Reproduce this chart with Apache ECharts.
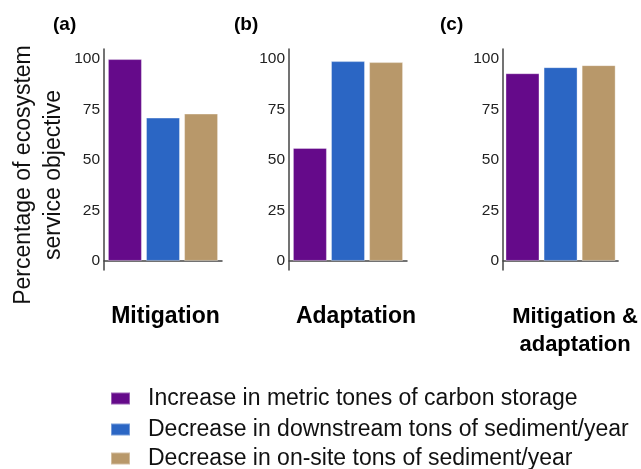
<!DOCTYPE html>
<html>
<head>
<meta charset="utf-8">
<script src="https://cdn.jsdelivr.net/npm/echarts@6/dist/echarts.min.js"></script>
<style>
html,body{margin:0;padding:0;background:#fff;}
#chart{width:641px;height:469px;}
</style>
</head>
<body>
<div id="chart"></div>
<script>
// ---- data ----
const objectives = ['Mitigation', 'Adaptation', 'Mitigation &\nadaptation'];
const panelLetters = ['(a)', '(b)', '(c)'];
const seriesNames = [
  'Increase in metric tones of carbon storage',
  'Decrease in downstream tons of sediment/year',
  'Decrease in on-site tons of sediment/year'
];
const carbonStorage = [100, 56, 93];
const downstreamSediment = [71, 99, 96];
const onsiteSediment = [73, 98.5, 97];
const yTickValues = [0, 25, 50, 75, 100];
const yTitle = 'Percentage of ecosystem\nservice objective';

// ---- layout/style ----
const FONT = "'Liberation Sans', Arial, sans-serif";
const colors = ['#650A8A', '#2B66C4', '#B8986A'];
const gridLefts = [104, 289, 503];
const gridWidths = [118, 118, 119];
const letterLefts = [53, 234, 440];
const labelShift = [5, 16, 29];
const labelSize = [23, 23, 22];
const legendTops = [387, 418, 447];
const valueSets = [carbonStorage, downstreamSediment, onsiteSediment];

const chart = echarts.init(document.getElementById('chart'), null, {renderer: 'canvas'});

const grids = [], xAxes = [], yAxes = [], series = [], titles = [], legends = [];
for (let p = 0; p < 3; p++) {
  grids.push({left: gridLefts[p], width: gridWidths[p], top: 49, height: 221, containLabel: false});
  xAxes.push({
    type: 'category', gridIndex: p, data: [objectives[p]],
    axisLine: {lineStyle: {color: '#444', width: 1.5}},
    axisTick: {show: false},
    axisLabel: {
      fontFamily: FONT, fontSize: labelSize[p], fontWeight: 'bold', color: '#000',
      margin: 33, lineHeight: 28, padding: [0, 0, 0, labelShift[p]], interval: 0
    }
  });
  yAxes.push({
    type: 'value', gridIndex: p, min: -4.5, max: 105,
    splitLine: {show: false},
    axisLine: {show: true, lineStyle: {color: '#444', width: 1.5}},
    axisTick: {show: false},
    axisLabel: {
      customValues: yTickValues, fontFamily: FONT, fontSize: 15.5, color: '#222', margin: 4
    }
  });
  for (let s = 0; s < 3; s++) {
    series.push({
      type: 'bar', name: seriesNames[s], xAxisIndex: p, yAxisIndex: p,
      data: [valueSets[s][p]], barWidth: 34, barGap: '12%',
      itemStyle: {color: colors[s], borderColor: 'rgba(255,255,255,0.35)', borderWidth: 1},
      silent: true
    });
  }
  titles.push({
    text: panelLetters[p], left: letterLefts[p], top: 15, padding: 0,
    textStyle: {fontFamily: FONT, fontSize: 19, fontWeight: 'bold', color: '#000'}
  });
}
for (let s = 0; s < 3; s++) {
  legends.push({
    data: [seriesNames[s]], orient: 'vertical', left: 110, top: legendTops[s], padding: 0,
    itemWidth: 19, itemHeight: 12, icon: 'rect', selectedMode: false,
    textStyle: {fontFamily: FONT, fontSize: 23, lineHeight: 21, color: '#111', padding: [0, 0, 0, 13]}
  });
}

chart.setOption({
  animation: false,
  title: titles,
  grid: grids,
  xAxis: xAxes,
  yAxis: yAxes,
  series: series,
  legend: legends,
  graphic: [{
    type: 'text', x: 39, y: 175, rotation: Math.PI / 2,
    style: {
      text: yTitle, fontFamily: FONT, fontSize: 23, lineHeight: 30,
      fill: '#111', align: 'center', verticalAlign: 'middle'
    }
  }]
});
</script>
</body>
</html>
